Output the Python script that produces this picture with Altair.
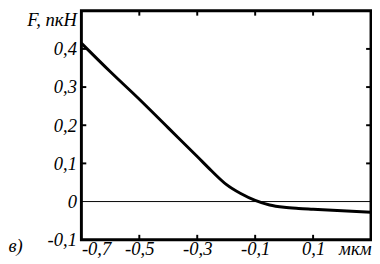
import altair as alt
import pandas as pd

# curve data (distance in мкм, force in пкН)
x_vals = [-0.7, -0.6, -0.5, -0.4, -0.3, -0.25, -0.2, -0.15, -0.1, -0.05, 0.0, 0.05, 0.1, 0.2, 0.3]
f_vals = [0.415, 0.34, 0.268, 0.193, 0.118, 0.08, 0.045, 0.021, 0.003, -0.009, -0.015, -0.018, -0.020, -0.024, -0.028]

x_ticks = [-0.7, -0.5, -0.3, -0.1, 0.1, 0.3]
y_ticks = [-0.1, 0.0, 0.1, 0.2, 0.3, 0.4, 0.5]
x_inner = [-0.5, -0.3, -0.1, 0.1]
y_inner = [0.1, 0.2, 0.3, 0.4]

W, H = 296, 234
FONT = "Times New Roman, Liberation Serif, DejaVu Serif, serif"
FS = 19

df = pd.DataFrame({"x": x_vals, "f": f_vals})
xin = pd.DataFrame({"x": x_inner})
yin = pd.DataFrame({"y": y_inner})

xs = alt.Scale(domain=[-0.7, 0.3], nice=False, zero=False)
ys = alt.Scale(domain=[-0.1, 0.5], nice=False, zero=False)

x_axis = alt.Axis(
    values=x_ticks, grid=False, ticks=False, domain=False, labelOverlap=False,
    labelExpr="datum.value > 0.25 ? 'мкм' : (datum.value < 0 ? '-' : '') + '0,' + round(abs(datum.value)*10)",
    labelFont=FONT, labelFontStyle="italic", labelFontSize=FS,
    labelColor="black", labelPadding=0, labelFlush=True,
    title="в)", titleFont=FONT, titleFontStyle="italic", titleFontWeight="normal",
    titleFontSize=FS, titleColor="black", titleX=-75, titleY=6, titleAlign="left",
    titleBaseline="middle", titleAnchor="start",
)
y_axis = alt.Axis(
    values=y_ticks, grid=False, ticks=False, domain=False, labelOverlap=False,
    labelExpr="datum.value > 0.45 ? 'F, пкН' : (abs(datum.value) < 0.001 ? '0' : (datum.value < 0 ? '-' : '') + '0,' + round(abs(datum.value)*10))",
    labelBaseline=alt.expr("datum.value > 0.45 ? 'top' : 'middle'"),
    labelFont=FONT, labelFontStyle="italic", labelFontSize=FS, labelColor="black",
    labelPadding=5, title=None,
)

line = alt.Chart(df).mark_line(color="black", strokeWidth=3, interpolate="monotone").encode(
    x=alt.X("x:Q", scale=xs, axis=x_axis, title="в)"),
    y=alt.Y("f:Q", scale=ys, axis=y_axis, title=None),
)

zero = alt.Chart(pd.DataFrame({"z": [0.0]})).mark_rule(color="black", strokeWidth=1).encode(
    y=alt.Y("z:Q", scale=ys, axis=y_axis, title=None), x=alt.value(0), x2=alt.value(W)
)

xb = alt.Chart(xin).mark_rule(color="black", strokeWidth=2).encode(
    x=alt.X("x:Q", scale=xs, axis=x_axis, title="в)"), y=alt.value(H - 5), y2=alt.value(H)
)
xt = alt.Chart(xin).mark_rule(color="black", strokeWidth=2).encode(
    x=alt.X("x:Q", scale=xs, axis=x_axis, title="в)"), y=alt.value(0), y2=alt.value(5)
)
yl = alt.Chart(yin).mark_rule(color="black", strokeWidth=2).encode(
    y=alt.Y("y:Q", scale=ys, axis=y_axis, title=None), x=alt.value(0), x2=alt.value(5)
)
yr = alt.Chart(yin).mark_rule(color="black", strokeWidth=2).encode(
    y=alt.Y("y:Q", scale=ys, axis=y_axis, title=None), x=alt.value(W - 5), x2=alt.value(W)
)

chart = alt.layer(line, zero, xb, xt, yl, yr).properties(
    width=W, height=H,
    autosize=alt.AutoSizeParams(type="none"),
    padding={"left": 75, "top": 0, "right": 1, "bottom": 22},
    background="white",
).configure_view(stroke="black", strokeWidth=3)

chart.save("out.html", embed_options={"renderer": "svg", "actions": False})
